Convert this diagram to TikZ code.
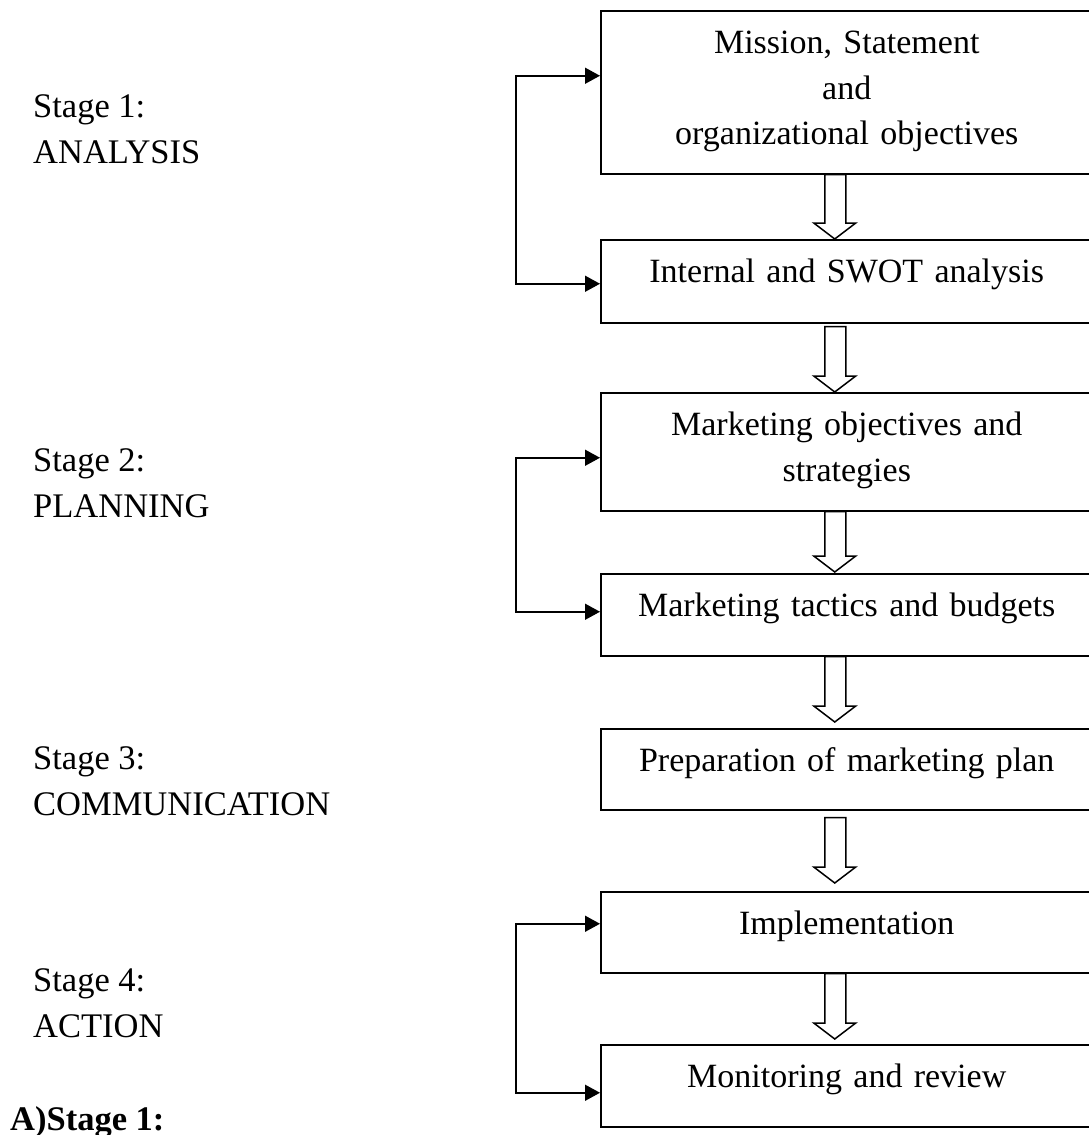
\documentclass[tikz,border=0pt]{standalone}
\usepackage{fontspec}
\setmainfont{Liberation Serif}
\usetikzlibrary{arrows.meta,calc}
\newcommand\blockarr[4]{%
  \draw[blk] let \p1=(#1.south), \p2=(#2.north) in
    (\x1-22pt,\y1-#3pt) -- (\x1-1pt,\y1-#3pt) -- (\x1-1pt,\y2+16pt+#4pt) --
    (\x1+9pt,\y2+16pt+#4pt) -- (\x1-12pt,\y2+#4pt) -- (\x1-33pt,\y2+16pt+#4pt) --
    (\x1-22pt,\y2+16pt+#4pt) -- cycle;}
\begin{document}
\begin{tikzpicture}[x=1pt,y=1pt,
  box/.style={draw, line width=1.5pt, inner sep=0pt, text width=492pt, align=center,
    text height=43pt, font=\fontsize{34}{45.5}\selectfont, anchor=north west},
  stagelbl/.style={inner sep=0pt, align=left, anchor=base west,
    font=\fontsize{34.5}{45.5}\selectfont},
  fb/.style={line width=1.5pt, line join=miter,
    {Triangle[length=15pt,width=16pt]}-{Triangle[length=15pt,width=16pt]}},
  blk/.style={draw, line width=1.5pt, fill=white, line join=miter}
]
\useasboundingbox (0,0) rectangle (1088,-1135);

% boxes
\node[box, text depth=120pt] (b1) at (600,-10) {Mission, Statement\\and\\organizational objectives};
\node[box, text depth=40pt] (b2) at (600,-239) {Internal and SWOT analysis};
\node[box, text depth=75pt] (b3) at (600,-392) {Marketing objectives and\\strategies};
\node[box, text depth=39pt] (b4) at (600,-573) {Marketing tactics and budgets};
\node[box, text depth=38pt] (b5) at (600,-728) {Preparation of marketing plan};
\node[box, text depth=38pt] (b6) at (600,-891) {Implementation};
\node[box, text depth=39pt] (b7) at (600,-1044) {Monitoring and review};

% block arrows
\blockarr{b1}{b2}{0}{0}
\blockarr{b2}{b3}{3}{0}
\blockarr{b3}{b4}{0}{1}
\blockarr{b4}{b5}{0}{6}
\blockarr{b5}{b6}{7}{8}
\blockarr{b6}{b7}{0}{5}

% feedback loops
\draw[fb] ([yshift=16.5pt]b1.west) -- ++(-84pt,0) |- ([yshift=-2.5pt]b2.west);
\draw[fb] ([yshift=-6pt]b3.west) -- ++(-84pt,0) |- ([yshift=3pt]b4.west);
\draw[fb] ([yshift=8.5pt]b6.west) -- ++(-84pt,0) |- ([yshift=-7pt]b7.west);

% stage labels (anchored at the baseline of their last line)
\node[stagelbl] (s1) at (33,-163) {Stage 1:\\ANALYSIS};
\node[stagelbl] (s2) at (33,-517) {Stage 2:\\PLANNING};
\node[stagelbl] (s3) at (33,-815) {Stage 3:\\COMMUNICATION};
\node[stagelbl] (s4) at (33,-1037) {Stage 4:\\ACTION};

\node[inner sep=0pt, anchor=base west, font=\fontsize{34.5}{45}\selectfont\bfseries] (foot) at (10,-1130) {A)Stage 1:};
\end{tikzpicture}
\end{document}
